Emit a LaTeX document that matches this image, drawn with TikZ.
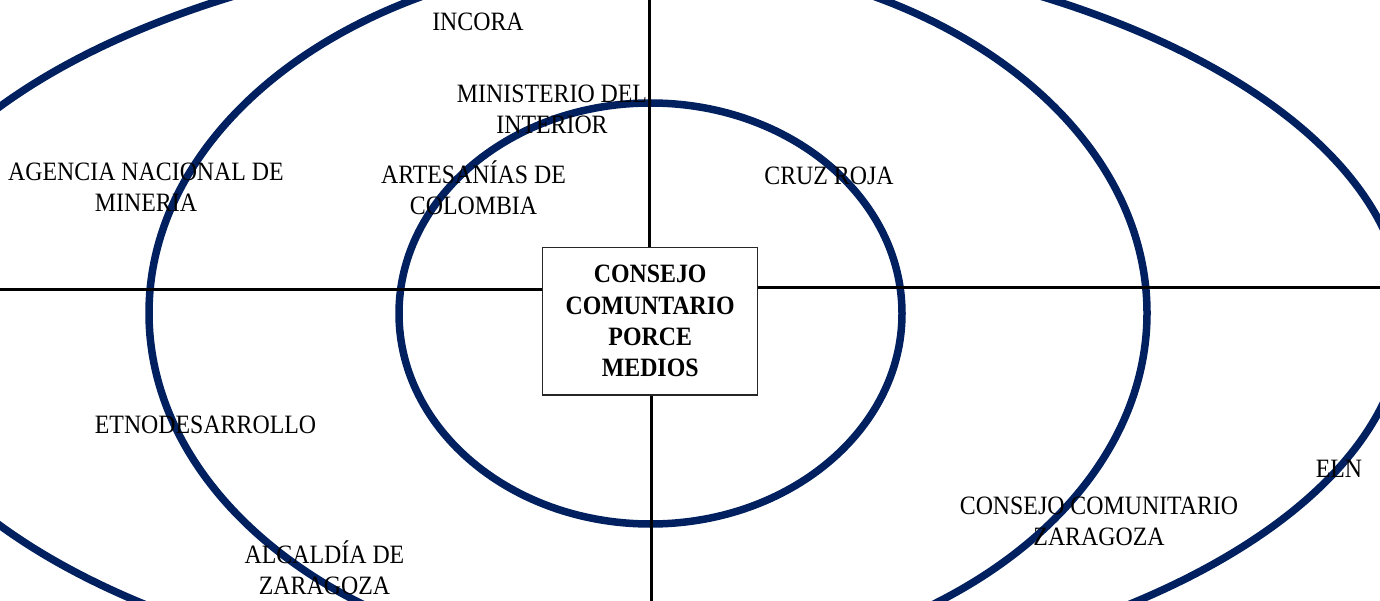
\documentclass[tikz,border=0pt]{standalone}
\usepackage{fontspec}
\setmainfont{Liberation Serif}[FakeStretch=0.9]
\definecolor{navy}{HTML}{002060}
\begin{document}
\begin{tikzpicture}[x=1pt,y=-1pt,
  ring/.style={draw=navy,line width=7.5pt},
  axis/.style={draw=black,line width=3pt},
  lbl/.style={font=\fontsize{26.5}{31}\selectfont,align=center,inner sep=0pt,anchor=base},
  centerbox/.style={draw=black!85,line width=1.2pt,fill=white,minimum width=215pt,minimum height=147.7pt,inner sep=0pt,align=center,font=\fontsize{26.5}{31.3}\selectfont\bfseries}]
\useasboundingbox (0,0) rectangle (1380,601);
\fill[white] (0,0) rectangle (1380,601);
\begin{scope}
\clip (0,0) rectangle (1380,601);
\draw[ring] (637,316) ellipse [x radius=767, y radius=376];
\draw[ring] (648,313) ellipse [x radius=499, y radius=355];
\draw[ring] (650.5,313.5) ellipse [x radius=251.5, y radius=210.5];
\end{scope}
\coordinate (L) at (0,290);
\coordinate (R) at (1380,288);
\coordinate (T) at (649.5,0);
\coordinate (B) at (651.5,601);
\node[centerbox] (box) at (650.2,321.2) {CONSEJO\\COMUNTARIO\\PORCE\\MEDIOS};
\draw[axis] (L) -- (L -| box.west);
\draw[axis] (box.east |- R) -- (R);
\draw[axis] (T) -- (T |- box.north);
\draw[axis] (B |- box.south) -- (B);
\node[lbl] (incora) at (478,30.5) {INCORA};
\node[lbl] (mint) at (552,134) {MINISTERIO DEL\\INTERIOR};
\node[lbl] (agencia) at (146,212) {AGENCIA NACIONAL DE\\MINERIA};
\node[lbl] (artes) at (473.5,215) {ARTESANÍAS DE\\COLOMBIA};
\node[lbl] (cruz) at (829,185) {CRUZ ROJA};
\node[lbl] (etno) at (205.5,433) {ETNODESARROLLO};
\node[lbl] (alcaldia) at (324.5,594) {ALCALDÍA DE\\ZARAGOZA};
\node[lbl] (ccz) at (1099,545) {CONSEJO COMUNITARIO\\ZARAGOZA};
\node[lbl] (eln) at (1339,477) {ELN};
\end{tikzpicture}
\end{document}
